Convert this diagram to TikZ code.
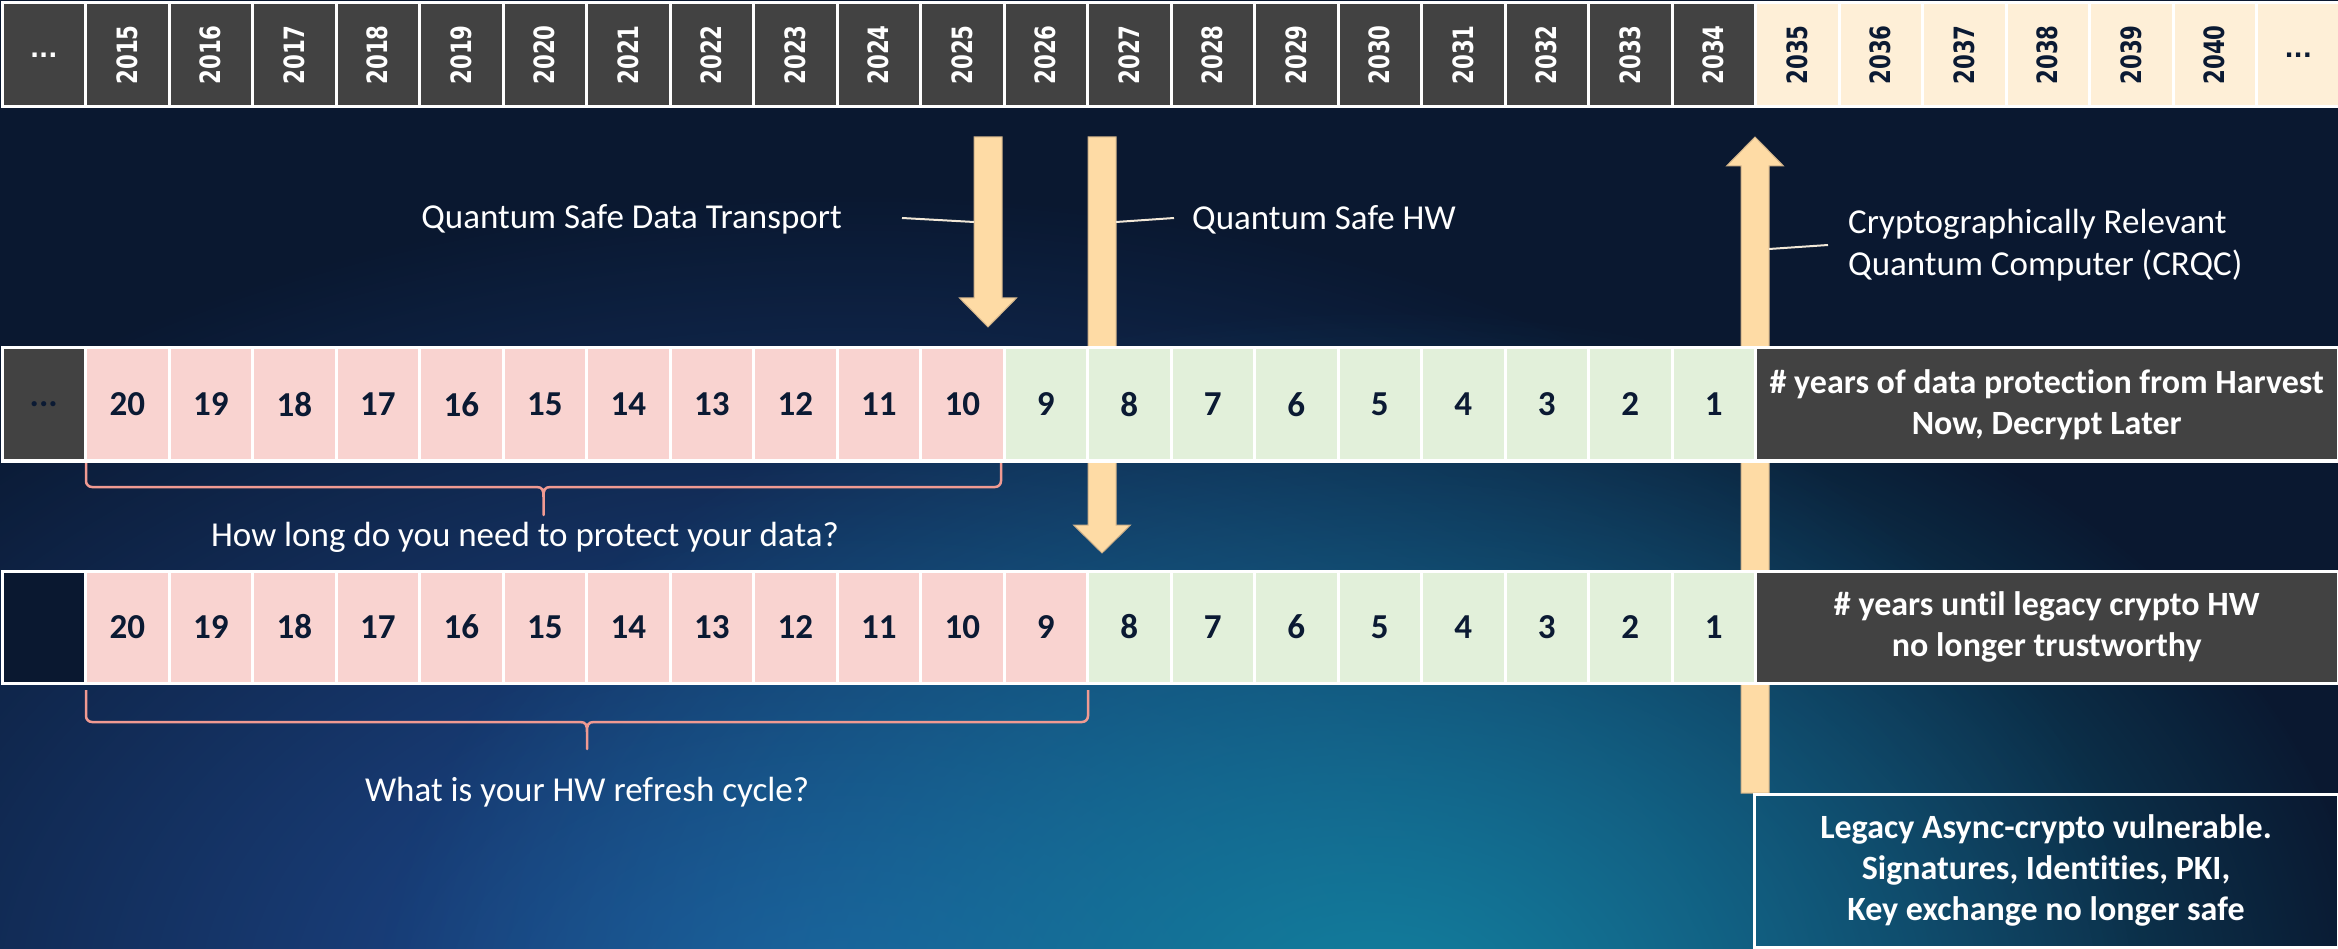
\documentclass[tikz,border=0pt]{standalone}
\usepackage{fontspec}
\usepackage{graphicx}
\setmainfont{Carlito}[Ligatures=NoCommon]
\newfontfamily\yearfam{DejaVu Sans}
\usetikzlibrary{fadings}
\definecolor{bgnavy}{HTML}{0A1830}
\definecolor{cellgray}{HTML}{424242}
\definecolor{cream}{HTML}{FEEFD7}
\definecolor{pinkc}{HTML}{F9D3D0}
\definecolor{greenc}{HTML}{E2F0DA}
\definecolor{navytext}{HTML}{0B1A33}
\definecolor{arrowc}{HTML}{FEDBA5}
\definecolor{arrowedge}{HTML}{CFB189}
\definecolor{bracec}{HTML}{F09A92}
\definecolor{leaderc}{HTML}{F2E8D8}
\definecolor{glowblue}{HTML}{2152A0}
\definecolor{glowteal}{HTML}{12809E}
\newcommand\mynumfont{\fontsize{35}{42}\selectfont\bfseries}
\newcommand\myboxfont{\fontsize{34}{41}\selectfont\bfseries}
\newcommand\mylblfont{\fontsize{35}{42}\selectfont}
\newcommand\yeartext[1]{\rotatebox{90}{\scalebox{0.76}[1]{\yearfam\bfseries\fontsize{28}{30}\selectfont #1}}}
\newcommand\mybrace[5]{%
  \pgfmathsetmacro\bmid{(#1+#2)/2}%
  \draw[bracestyle] (#1,#3) -- (#1,#4-6) to[out=-90,in=180] (#1+6,#4) -- (\bmid-7,#4)
    .. controls (\bmid-1,#4) and (\bmid,#4+3) .. (\bmid,#4+10) -- (\bmid,#5)
    -- (\bmid,#4+10) .. controls (\bmid,#4+3) and (\bmid+1,#4) .. (\bmid+7,#4)
    -- (#2-6,#4) to[out=0,in=-90] (#2,#4-6) -- (#2,#3);}
\tikzfading[name=softglow, inner color=transparent!0, outer color=transparent!100]
\begin{document}
\begin{tikzpicture}[x=1pt,y=-1pt,
  cellbase/.style={draw=white, line width=3pt, inner sep=0pt, minimum width=83.5pt},
  topcell/.style={cellbase, minimum height=104pt},
  midcell/.style={cellbase, minimum height=113pt, font=\mynumfont, text=navytext},
  lowcell/.style={cellbase, minimum height=112pt, font=\mynumfont, text=navytext},
  labelbox/.style={draw=white, line width=3pt, fill=cellgray, text=white, inner sep=0pt,
    minimum width=582.5pt, align=center, font=\myboxfont},
  lbl/.style={text=white, inner sep=0pt, font=\mylblfont},
  blockarrow/.style={fill=arrowc, draw=arrowedge, line width=1pt, line join=miter},
  leader/.style={draw=leaderc, line width=2pt},
  bracestyle/.style={draw=bracec, line width=2.5pt, line join=round}]
\useasboundingbox (0,0) rectangle (2338,949);
% background
\begin{scope}
\clip (0,0) rectangle (2338,949);
\fill[bgnavy] (0,0) rectangle (2338,949);
\fill[glowblue, path fading=softglow] (850,1010) ellipse (1300 and 820);
\fill[glowteal, path fading=softglow] (1380,1010) ellipse (1000 and 700);
\end{scope}
% block arrows
\draw[blockarrow] (974,137) -- (1002,137) -- (1002,298) -- (1016.5,298) -- (988,327)
  -- (959.5,298) -- (974,298) -- cycle;
\draw[blockarrow] (1088,137) -- (1116,137) -- (1116,525) -- (1130.5,525) -- (1102,553)
  -- (1073.5,525) -- (1088,525) -- cycle;
\draw[blockarrow] (1741,793) -- (1769,793) -- (1769,166) -- (1783.5,166) -- (1755,137)
  -- (1726.5,166) -- (1741,166) -- cycle;
% top row
\foreach \i in {0,...,27}{
  \pgfmathsetmacro\cx{2+83.5*(\i+0.5)}
  \pgfmathtruncatemacro\yr{2014+\i}
  \ifnum\i=0
    \node[topcell, fill=cellgray, text=white, font=\yearfam\bfseries\fontsize{24}{28}\selectfont] (t\i) at (\cx,55) {...};
  \else\ifnum\i<21
    \node[topcell, fill=cellgray, text=white] (t\i) at (\cx,55) {\yeartext{\yr}};
  \else\ifnum\i<27
    \node[topcell, fill=cream, text=navytext] (t\i) at (\cx,55) {\yeartext{\yr}};
  \else
    \node[topcell, fill=cream, text=navytext, font=\yearfam\bfseries\fontsize{24}{28}\selectfont] (t\i) at (\cx,55) {...};
  \fi\fi\fi
}
% middle row
\foreach \i in {0,...,20}{
  \pgfmathsetmacro\cx{2+83.5*(\i+0.5)}
  \pgfmathtruncatemacro\nv{21-\i}
  \ifnum\i=0
    \node[midcell, fill=cellgray] (m\i) at (\cx,404.5) {...};
  \else\ifnum\i<12
    \node[midcell, fill=pinkc] (m\i) at (\cx,404.5) {\nv};
  \else
    \node[midcell, fill=greenc] (m\i) at (\cx,404.5) {\nv};
  \fi\fi
}
\node[labelbox, minimum height=113pt] (harvest) at (2046.75,404.5)
  {\# years of data protection from Harvest\\Now, Decrypt Later};
% lower row
\foreach \i in {0,...,20}{
  \pgfmathsetmacro\cx{2+83.5*(\i+0.5)}
  \pgfmathtruncatemacro\nv{21-\i}
  \ifnum\i=0
    \node[lowcell, fill=bgnavy] (b\i) at (\cx,627) {};
  \else\ifnum\i<13
    \node[lowcell, fill=pinkc] (b\i) at (\cx,627) {\nv};
  \else
    \node[lowcell, fill=greenc] (b\i) at (\cx,627) {\nv};
  \fi\fi
}
\node[labelbox, minimum height=112pt] (legacyhw) at (2046.75,627)
  {\# years until legacy crypto HW\\no longer trustworthy};
% bottom box
\node[draw=white, line width=3pt, inner sep=0pt, minimum width=584pt, minimum height=153pt,
  align=center, text=white, font=\myboxfont] (vuln) at (2046,870.5)
  {Legacy Async-crypto vulnerable.\\Signatures, Identities, PKI,\\Key exchange no longer safe};
% arrow labels and leaders
\node[lbl, anchor=east] (qsdt) at (842,219) {Quantum Safe Data Transport};
\coordinate (qsdtA) at (902,218);
\coordinate (qsdtB) at (974,222);
\draw[leader] (qsdtA) -- (qsdtB);
\node[lbl, anchor=west] (qshw) at (1192,220) {Quantum Safe HW};
\coordinate (qshwA) at (1116,222);
\coordinate (qshwB) at (1174,218);
\draw[leader] (qshwA) -- (qshwB);
\node[lbl, anchor=west, align=left] (crqc) at (1848,245)
  {Cryptographically Relevant\\Quantum Computer (CRQC)};
\coordinate (crqcA) at (1769,249);
\coordinate (crqcB) at (1828,245);
\draw[leader] (crqcA) -- (crqcB);
% braces and questions
\mybrace{86}{1001}{463}{487}{515}
\node[lbl] (q1) at (525,537) {How long do you need to protect your data?};
\mybrace{86}{1088}{690}{722}{749}
\node[lbl] (q2) at (587,792) {What is your HW refresh cycle?};
\end{tikzpicture}
\end{document}
